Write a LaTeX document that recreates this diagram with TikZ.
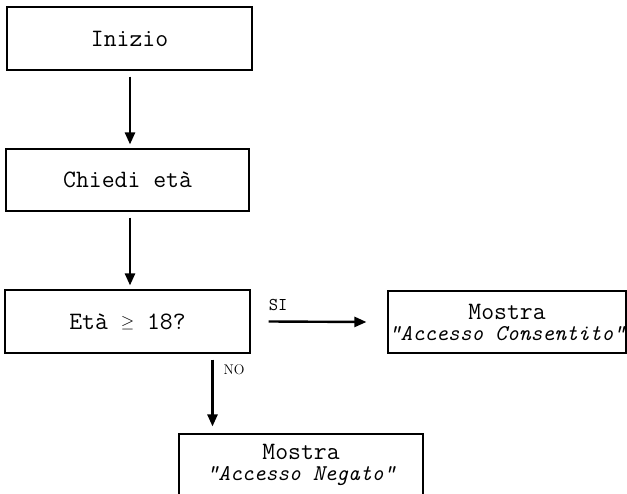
\documentclass[tikz,border=0pt]{standalone}
\usetikzlibrary{arrows.meta,positioning}
\newcommand{\msgtext}[1]{{\fontsize{22.5}{21}\selectfont\itshape #1}}
\begin{document}
\begin{tikzpicture}[x=1pt, y=1pt, font=\ttfamily\fontsize{25}{21}\selectfont,
	box/.style={draw, line width=1.1pt, minimum width=245pt, minimum height=63pt, inner sep=0pt, align=center},
	arr/.style={line width=2.4pt, -{Triangle[length=12pt,width=10pt]}},
	lbl/.style={inner sep=0pt, font=\ttfamily\fontsize{18}{18}\selectfont}]
	\useasboundingbox (0,0) rectangle (627,-494);
	\node[box] (inizio) at (129.5,-38.5) {Inizio};
	\node[box, minimum width=243pt, minimum height=62pt] (chiedi) at (127.5,-180) {Chiedi età};
	\node[box] (eta) at (127.5,-321.5) {Età \raisebox{2pt}{\fontsize{17}{17}\selectfont$\geq$} 18?};
	\node[box, minimum width=238pt, minimum height=62pt] (consentito) at (507,-322) {Mostra\\\msgtext{"Accesso Consentito"}};
	\node[box, minimum width=244pt, minimum height=62pt] (negato) at (301,-465) {Mostra\\\msgtext{"Accesso Negato"}};
	% frecce
	\draw[arr, shorten <=6pt, shorten >=4pt] ([xshift=0.5pt]inizio.south) -- ([xshift=0.5pt]inizio.south |- chiedi.north);
	\draw[arr, shorten <=6pt, shorten >=4pt] ([xshift=2.5pt]chiedi.south) -- ([xshift=2.5pt]chiedi.south |- eta.north);
	\coordinate (siA) at ([xshift=18pt]eta.east);
	\coordinate (siB) at ([xshift=-21pt]consentito.west);
	\draw[arr] (siA) -- (siB);
	\node[lbl, anchor=base west] (si) at ([yshift=11pt]siA) {SI};
	\coordinate (noA) at ([xshift=85pt,yshift=-6pt]eta.south);
	\coordinate (noB) at ([yshift=7pt]noA |- negato.north);
	\draw[arr] (noA) -- (noB);
	\node[lbl, font=\rmfamily\fontsize{14}{14}\selectfont, anchor=base west] (no) at ([xshift=11pt,yshift=-15pt]noA) {NO};
\end{tikzpicture}
\end{document}
